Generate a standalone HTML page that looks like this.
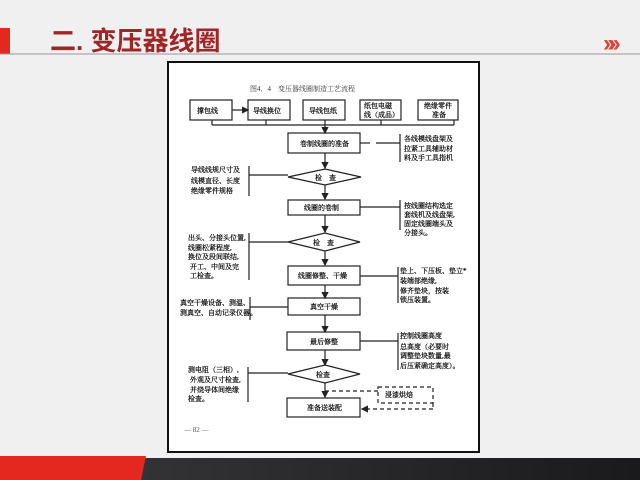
<!DOCTYPE html>
<html><head><meta charset="utf-8"><style>
html,body{margin:0;padding:0;}
body{width:640px;height:480px;background:#f1f0f1;position:relative;overflow:hidden;font-family:"Liberation Sans","Noto Sans CJK SC",sans-serif;}
</style></head><body>
<svg width="640" height="480" viewBox="0 0 640 480" xmlns="http://www.w3.org/2000/svg" style="position:absolute;left:0;top:0" font-family="'Liberation Serif','Noto Serif CJK SC','Noto Sans CJK SC',serif">
<defs>
<marker id="a" markerWidth="6" markerHeight="6" refX="5" refY="3" orient="auto"><path d="M0,0 L6,3 L0,6 z" fill="#222"/></marker>
<linearGradient id="g" x1="0" x2="1"><stop offset="0" stop-color="#3a3a3c"/><stop offset="1" stop-color="#1a1a1c"/></linearGradient>
</defs>
<rect x="0" y="28" width="10" height="26" fill="#e5281f"/>
<line x1="0" y1="54" x2="640" y2="54" stroke="#999" stroke-width="1"/>
<text x="50" y="50" font-family="'Liberation Sans','Noto Sans CJK SC',sans-serif" font-size="26" font-weight="bold" fill="#9e2626">二. 变压器线圈</text>
<text x="603" y="51" font-family="'Liberation Sans',sans-serif" font-size="24" font-weight="bold" fill="#d9463a" letter-spacing="-9">»»</text>
<rect x="0" y="458" width="640" height="22" fill="url(#g)"/>
<polygon points="0,456 146,456 141,480 0,480" fill="#e5281f"/>
<rect x="168" y="62" width="311" height="390" fill="#fff" stroke="#111" stroke-width="2"/>
<g font-size="7" fill="#333" stroke="none">
<text x="250" y="91">图4．4　变压器线圈制造工艺流程</text>
</g>
<g fill="none" stroke="#222" stroke-width="1.2">
<rect x="190" y="100" width="42" height="20"/>
<rect x="248" y="100" width="42" height="20"/>
<rect x="303" y="100" width="42" height="20"/>
<rect x="360" y="100" width="41" height="20"/>
<rect x="418" y="100" width="40" height="20"/>
<line x1="232" y1="110" x2="248" y2="110" marker-end="url(#a)"/>
<line x1="212" y1="125" x2="454" y2="125"/>
<line x1="212" y1="120" x2="212" y2="125"/><line x1="266" y1="120" x2="266" y2="125"/><line x1="325" y1="120" x2="325" y2="125"/><line x1="381" y1="120" x2="381" y2="125"/><line x1="454" y1="120" x2="454" y2="125"/>
<line x1="325" y1="125" x2="325" y2="133" marker-end="url(#a)"/>
<rect x="288" y="133" width="72" height="20"/>
<line x1="360" y1="143" x2="370" y2="143"/><line x1="376" y1="143" x2="400" y2="143"/>
<line x1="400" y1="134" x2="400" y2="162"/>
<line x1="325" y1="153" x2="325" y2="168" marker-end="url(#a)"/>
<polygon points="288,177 325,169 361,177 325,185"/>
<line x1="249" y1="175" x2="288" y2="175"/>
<line x1="249" y1="166" x2="249" y2="196"/>
<line x1="325" y1="185" x2="325" y2="199" marker-end="url(#a)"/>
<rect x="288" y="200" width="72" height="15"/>
<line x1="360" y1="207" x2="400" y2="207"/>
<line x1="400" y1="200" x2="400" y2="230"/>
<line x1="325" y1="215" x2="325" y2="232" marker-end="url(#a)"/>
<polygon points="288,242 325,233 360,242 325,251"/>
<line x1="249" y1="242" x2="288" y2="242"/>
<line x1="249" y1="233" x2="249" y2="280"/>
<line x1="325" y1="251" x2="325" y2="265" marker-end="url(#a)"/>
<rect x="288" y="266" width="72" height="19"/>
<line x1="360" y1="276" x2="398" y2="276"/>
<line x1="398" y1="267" x2="398" y2="303"/>
<line x1="325" y1="285" x2="325" y2="298" marker-end="url(#a)"/>
<rect x="288" y="298" width="72" height="17"/>
<line x1="250" y1="307" x2="288" y2="307"/>
<line x1="250" y1="297" x2="250" y2="320"/>
<line x1="325" y1="315" x2="325" y2="332" marker-end="url(#a)"/>
<rect x="287" y="332" width="73" height="18"/>
<line x1="360" y1="341" x2="398" y2="341"/>
<line x1="398" y1="333" x2="398" y2="370"/>
<line x1="325" y1="350" x2="325" y2="365" marker-end="url(#a)"/>
<polygon points="288,374 325,365 360,374 325,383"/>
<line x1="248" y1="373" x2="288" y2="373"/>
<line x1="248" y1="367" x2="248" y2="402"/>
<line x1="325" y1="383" x2="325" y2="397" marker-end="url(#a)"/>
<rect x="287" y="398" width="73" height="19"/>
<g stroke-dasharray="4,3">
<rect x="378" y="387" width="55" height="16"/>
<line x1="325" y1="391" x2="378" y2="391"/>
<line x1="433" y1="403" x2="433" y2="409"/>
<line x1="433" y1="409" x2="362" y2="409" marker-end="url(#a)"/>
</g>
</g>
<g font-size="7" fill="#000" stroke="#000" stroke-width="0.2">
<text x="197" y="113">撑包线</text>
<text x="253" y="113">导线换位</text>
<text x="309" y="113">导线包纸</text>
<text x="364" y="108">纸包电磁</text><text x="364" y="117">线（成品）</text>
<text x="424" y="108">绝缘零件</text><text x="432" y="117">准备</text>
<text x="300" y="146">卷制线圈的准备</text>
<text x="404" y="141">各线模线盘架及</text>
<text x="404" y="151">拉紧工具辅助材</text>
<text x="404" y="160">料及手工具指机</text>
<text x="315" y="180">检　查</text>
<text x="191" y="172">导线线规尺寸及</text>
<text x="191" y="183">线模直径、长度</text>
<text x="191" y="193">绝缘零件规格</text>
<text x="304" y="210">线圈的卷制</text>
<text x="404" y="208">按线圈结构选定</text>
<text x="404" y="217">套线机及线盘架,</text>
<text x="404" y="226">固定线圈端头及</text>
<text x="404" y="235">分接头。</text>
<text x="313" y="245">检　查</text>
<text x="188" y="240">出头、分接头位置,</text>
<text x="188" y="250">线圈松紧程度,</text>
<text x="188" y="259">换位及段间联结,</text>
<text x="190" y="269">开工、中间及完</text>
<text x="190" y="278">工检查。</text>
<text x="298" y="278">线圈修整、干燥</text>
<text x="400" y="273">垫上、下压板、垫立*</text>
<text x="400" y="283">装端部绝缘,</text>
<text x="400" y="293">修齐垫块，按装</text>
<text x="400" y="302">锁压装置。</text>
<text x="310" y="309">真空干燥</text>
<text x="180" y="305">真空干燥设备、测温、</text>
<text x="180" y="315">测真空、自动记录仪器。</text>
<text x="310" y="344">最后修整</text>
<text x="400" y="338">控制线圈高度</text>
<text x="400" y="349">总高度（必要时</text>
<text x="400" y="358">调整垫块数量,最</text>
<text x="400" y="368">后压紧确定高度）。</text>
<text x="316" y="377">检查</text>
<text x="188" y="372">测电阻（三相）,</text>
<text x="190" y="382">外观及尺寸检查,</text>
<text x="190" y="392">并绕导体间绝缘</text>
<text x="188" y="401">检查。</text>
<text x="307" y="410">准备送装配</text>
<text x="385" y="397">浸漆烘焙</text>
<text x="184" y="432" fill="#555" stroke="none">— 82 —</text>
</g>
</svg>
</body></html>
